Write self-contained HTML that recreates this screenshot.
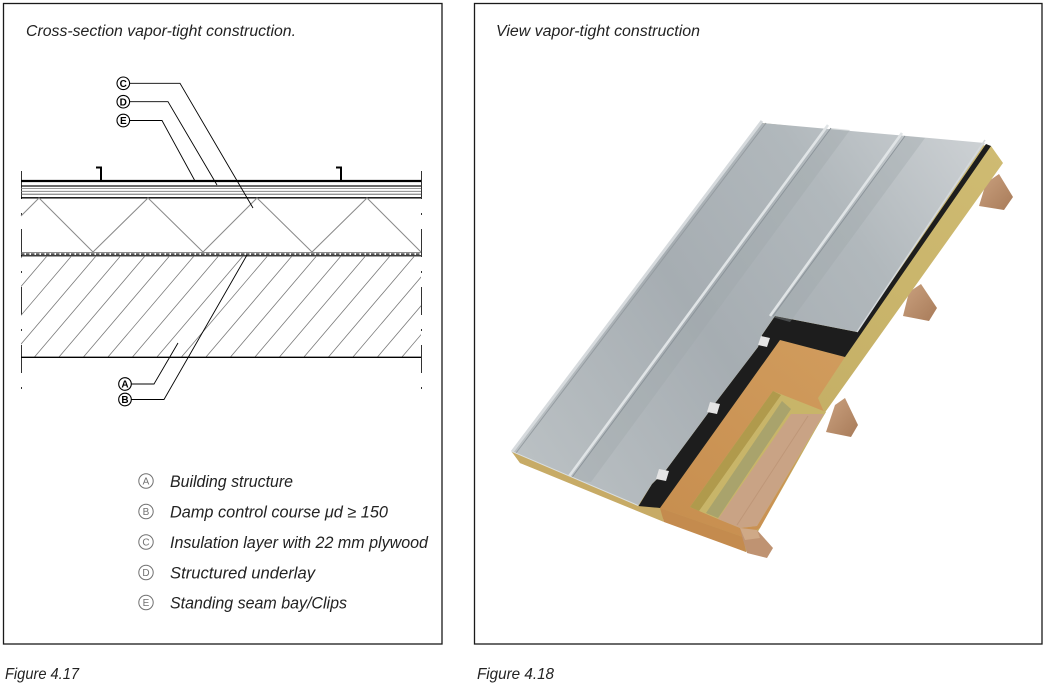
<!DOCTYPE html>
<html>
<head>
<meta charset="utf-8">
<style>
  html,body{margin:0;padding:0;background:#ffffff;}
  svg{display:block;}
</style>
</head>
<body>
<svg xmlns="http://www.w3.org/2000/svg" width="1048" height="685" viewBox="0 0 1048 685" font-family="'Liberation Sans', Arial, sans-serif">
  <defs>
    <clipPath id="hatchClip"><rect x="21" y="256" width="400" height="101"/></clipPath>
    <linearGradient id="gm" gradientUnits="userSpaceOnUse" x1="1000" y1="140" x2="520" y2="470">
      <stop offset="0" stop-color="#cfd3d6"/>
      <stop offset="0.3" stop-color="#b1b8bc"/>
      <stop offset="0.6" stop-color="#a6adb2"/>
      <stop offset="1" stop-color="#bbc1c4"/>
    </linearGradient>
    <linearGradient id="gy" gradientUnits="userSpaceOnUse" x1="1000" y1="150" x2="740" y2="550">
      <stop offset="0" stop-color="#cfbb72"/>
      <stop offset="1" stop-color="#c0aa60"/>
    </linearGradient>
    <linearGradient id="gp" gradientUnits="userSpaceOnUse" x1="820" y1="345" x2="680" y2="520">
      <stop offset="0" stop-color="#d09b5c"/>
      <stop offset="1" stop-color="#c88f50"/>
    </linearGradient>
    <linearGradient id="gb" x1="0" y1="0" x2="1" y2="1">
      <stop offset="0" stop-color="#caa17f"/>
      <stop offset="1" stop-color="#a87b59"/>
    </linearGradient>
  </defs>

  <!-- Frames -->
  <rect x="3.5" y="3.5" width="438.5" height="640.5" fill="none" stroke="#1a1a1a" stroke-width="1.3"/>
  <rect x="474.5" y="3.5" width="567.5" height="640.5" fill="none" stroke="#1a1a1a" stroke-width="1.3"/>

  <!-- Titles -->
  <text x="26" y="36" font-size="15.5" font-style="italic" fill="#222" textLength="270" lengthAdjust="spacingAndGlyphs">Cross-section vapor-tight construction.</text>
  <text x="496" y="36" font-size="15.5" font-style="italic" fill="#222" textLength="204" lengthAdjust="spacingAndGlyphs">View vapor-tight construction</text>

  <!-- Figure labels -->
  <text x="5" y="679" font-size="16" font-style="italic" fill="#222" textLength="74" lengthAdjust="spacingAndGlyphs">Figure 4.17</text>
  <text x="477" y="679" font-size="16" font-style="italic" fill="#222" textLength="77" lengthAdjust="spacingAndGlyphs">Figure 4.18</text>

  <!-- ========== CROSS SECTION ========== -->
  <!-- vertical dash-dot edges -->
  <line x1="21.5" y1="171" x2="21.5" y2="390" stroke="#333" stroke-width="1" stroke-dasharray="28 14 2 14"/>
  <line x1="421.5" y1="171" x2="421.5" y2="390" stroke="#333" stroke-width="1" stroke-dasharray="28 14 2 14"/>

  <!-- clips -->
  <path d="M96 167.5 H101 V181" fill="none" stroke="#000" stroke-width="2"/>
  <path d="M336 167.5 H341 V181" fill="none" stroke="#000" stroke-width="2"/>

  <!-- roof layers -->
  <line x1="21" y1="181" x2="421" y2="181" stroke="#000" stroke-width="2.2"/>
  <line x1="21" y1="186" x2="421" y2="186" stroke="#111" stroke-width="1.3"/>
  <line x1="21" y1="188.6" x2="421" y2="188.6" stroke="#777" stroke-width="0.8"/>
  <line x1="21" y1="191.3" x2="421" y2="191.3" stroke="#777" stroke-width="0.8"/>
  <line x1="21" y1="194.2" x2="421" y2="194.2" stroke="#555" stroke-width="0.9"/>
  <line x1="21" y1="197.8" x2="421" y2="197.8" stroke="#000" stroke-width="1.4"/>

  <!-- insulation zigzag -->
  <polyline points="21,216 39,198 93,252 148,198 203,252 257,198 312,252 367,198 421,252" fill="none" stroke="#8a8a8a" stroke-width="1"/>

  <!-- damp course -->
  <line x1="21" y1="252.4" x2="421" y2="252.4" stroke="#666" stroke-width="0.8"/>
  <line x1="21" y1="254.1" x2="421" y2="254.1" stroke="#555" stroke-width="1.7" stroke-dasharray="3.5 1.5"/>
  <line x1="21" y1="255.8" x2="421" y2="255.8" stroke="#000" stroke-width="1.2"/>

  <!-- hatching -->
  <g clip-path="url(#hatchClip)" stroke="#7a7a7a" stroke-width="0.8">
    <path d="M-88 357 L-2 256 M-63.5 357 L22.5 256 M-39 357 L47 256 M-14.5 357 L71.5 256 M10 357 L96 256 M34.5 357 L120.5 256 M59 357 L145 256 M83.5 357 L169.5 256 M108 357 L194 256 M132.5 357 L218.5 256 M157 357 L243 256 M181.5 357 L267.5 256 M206 357 L292 256 M230.5 357 L316.5 256 M255 357 L341 256 M279.5 357 L365.5 256 M304 357 L390 256 M328.5 357 L414.5 256 M353 357 L439 256 M377.5 357 L463.5 256 M402 357 L488 256 M426.5 357 L512.5 256"/>
  </g>
  <line x1="21" y1="357.3" x2="421" y2="357.3" stroke="#000" stroke-width="1.3"/>

  <!-- leaders -->
  <g fill="none" stroke="#000" stroke-width="0.9">
    <polyline points="129.6,83.3 180,83.3 253,208"/>
    <polyline points="129.6,101.7 168,101.7 217,185"/>
    <polyline points="129.6,120.5 162,120.5 195,181"/>
    <polyline points="131.3,384 154,384 178,343"/>
    <polyline points="131.3,399.5 164,399.5 247,255"/>
  </g>
  <g fill="#fff" stroke="#000" stroke-width="1.1">
    <circle cx="123.3" cy="83.3" r="6.3"/>
    <circle cx="123.3" cy="101.7" r="6.3"/>
    <circle cx="123.3" cy="120.5" r="6.3"/>
    <circle cx="125" cy="384" r="6.3"/>
    <circle cx="125" cy="399.5" r="6.3"/>
  </g>
  <g font-size="10" font-weight="bold" fill="#000" text-anchor="middle">
    <text x="123.3" y="87">C</text>
    <text x="123.3" y="105.4">D</text>
    <text x="123.3" y="124.2">E</text>
    <text x="125" y="387.7">A</text>
    <text x="125" y="403.2">B</text>
  </g>

  <!-- legend -->
  <g fill="none" stroke="#707070" stroke-width="1">
    <circle cx="146" cy="481" r="7.2"/>
    <circle cx="146" cy="511.5" r="7.2"/>
    <circle cx="146" cy="542" r="7.2"/>
    <circle cx="146" cy="572.5" r="7.2"/>
    <circle cx="146" cy="602.5" r="7.2"/>
  </g>
  <g font-size="10" fill="#707070" text-anchor="middle">
    <text x="146" y="484.6">A</text>
    <text x="146" y="515.1">B</text>
    <text x="146" y="545.6">C</text>
    <text x="146" y="576.1">D</text>
    <text x="146" y="606.1">E</text>
  </g>
  <g font-size="16.5" font-style="italic" fill="#222">
    <text x="170" y="487" textLength="123" lengthAdjust="spacingAndGlyphs">Building structure</text>
    <text x="170" y="517.5" textLength="218" lengthAdjust="spacingAndGlyphs">Damp control course μd ≥ 150</text>
    <text x="170" y="548" textLength="258" lengthAdjust="spacingAndGlyphs">Insulation layer with 22 mm plywood</text>
    <text x="170" y="578.5" textLength="145" lengthAdjust="spacingAndGlyphs">Structured underlay</text>
    <text x="170" y="608.5" textLength="177" lengthAdjust="spacingAndGlyphs">Standing seam bay/Clips</text>
  </g>

  <!-- ========== 3D VIEW ========== -->
  <!-- beams behind -->
  <polygon points="986,183 999,174 1013,197 1004,210 979,206" fill="url(#gb)"/>
  <polygon points="909,292 921,284 937,308 929,321 903,316" fill="url(#gb)"/>
  <polygon points="835,405 845,398 858,425 851,437 826,432" fill="url(#gb)"/>

  <!-- slab base (yellow insulation side) -->
  <polygon points="762,123 991,146 1003,163 826,411 760,528 746,552 520,463 512,452" fill="url(#gy)"/>

  <!-- plywood -->
  <polygon points="780,340 845,357 818,398 824,412 760,528 743,537 660,508" fill="url(#gp)"/>

  <!-- black underlay -->
  <polygon points="775,316 857,332 986,144 991,146 845,357 780,340 660,508 638,507 652,484 666,470 706,416 716,402 758,347 762,335" fill="#1d1d1d"/>

  <!-- metal -->
  <polygon points="762,123 985,143 857,332 775,316 762,335 758,347 716,402 706,416 666,470 652,484 638,506 512,452" fill="url(#gm)"/>
  <!-- panel shading -->
  <polygon points="831,128 850,130 591,482 570,480" fill="#9da5aa" opacity="0.35"/>
  <polygon points="905,136 925,138 790,322 772,317" fill="#9da5aa" opacity="0.35"/>

  <!-- seams & edges -->
  <line x1="762" y1="121" x2="512" y2="452" stroke="#d6dadd" stroke-width="3"/>
  <line x1="766" y1="123" x2="516" y2="453" stroke="#959ca1" stroke-width="1"/>
  <line x1="828" y1="125" x2="567" y2="479" stroke="#e0e4e6" stroke-width="2.6"/>
  <line x1="831" y1="128" x2="570" y2="480" stroke="#8c949a" stroke-width="1"/>
  <line x1="902" y1="133" x2="770" y2="316" stroke="#e0e4e6" stroke-width="2.6"/>
  <line x1="905" y1="136" x2="773" y2="316" stroke="#8c949a" stroke-width="1"/>
  <line x1="985" y1="140" x2="857" y2="332" stroke="#d5d9dc" stroke-width="1.5"/>
  <line x1="512" y1="452" x2="638" y2="506" stroke="#dadfe1" stroke-width="2"/>

  <!-- clips -->
  <polygon points="761,336 770,338 767,347 758,345" fill="#e4e4e4"/>
  <polygon points="710,402 720,404 717,414 707,412" fill="#e4e4e4"/>
  <polygon points="659,469 669,471 666,481 656,479" fill="#e4e4e4"/>

  <!-- front faces -->
  <polygon points="512,452 638,506 660,508 664,522 520,463" fill="#c7ab66"/>
  <polygon points="660,508 743,537 746,552 664,522" fill="#c48b4e"/>

  <!-- cut into insulation -->
  <polygon points="773,391 826,412 757,526 740,528 713,517 690,507" fill="#c8b569"/>
  <polygon points="773,391 781,395 699,511 690,507" fill="#b09a4c"/>
  <polygon points="782,401 791,409 718,518 706,513" fill="#a9a36c"/>
  <polygon points="791,414 824,414 757,526 740,528 718,519" fill="#c9a385"/>
  <line x1="808" y1="416" x2="737" y2="525" stroke="#b88f70" stroke-width="1" opacity="0.6"/>

  <!-- rafter end at eave -->
  <polygon points="740,528 757,530 773,548 767,558 747,553 743,540" fill="#bf9372"/>
  <polygon points="740,528 757,530 760,538 745,540" fill="#cfa987"/>
</svg>
</body>
</html>
